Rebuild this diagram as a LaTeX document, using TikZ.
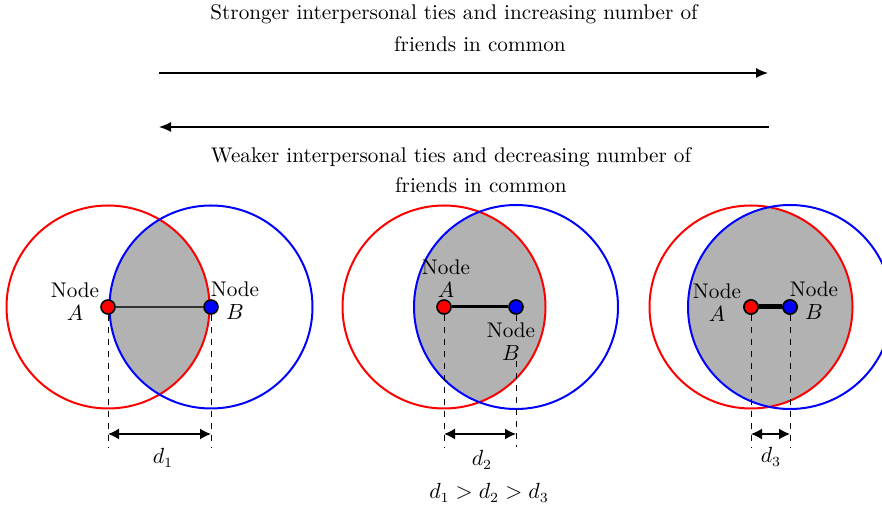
\documentclass[tikz,border=0pt]{standalone}
\usetikzlibrary{arrows.meta}
\begin{document}
\begin{tikzpicture}[x=0.5pt,y=-0.5pt,
  txt/.style={font=\fontsize{10.6pt}{11.5pt}\selectfont, inner sep=0pt, align=center},
  ring/.style={line width=1pt},
  dot/.style={circle, draw=black, line width=0.8pt, minimum size=7pt, inner sep=0pt},
  dimline/.style={dashed, line width=0.4pt},
  dimarrow/.style={{Latex[length=5.5pt,width=5.5pt]}-{Latex[length=5.5pt,width=5.5pt]}, line width=0.7pt},
  bigarrow/.style={-{Latex[length=6pt,width=5pt]}, line width=0.6pt},
  shade/.style={fill=black!30}]
\useasboundingbox (0,0) rectangle (882,506);

% top texts and arrows
\node[txt] (t1a) at (454,14) {Stronger interpersonal ties and increasing number of};
\node[txt] (t1b) at (480,44) {friends in common};
\coordinate (a1s) at (159,73);
\coordinate (a1e) at (768,73);
\draw[bigarrow] (a1s) -- (a1e);
\coordinate (a2s) at (769,127);
\coordinate (a2e) at (159,127);
\draw[bigarrow] (a2s) -- (a2e);
\node[txt] (t2a) at (451,157) {Weaker interpersonal ties and decreasing number of};
\node[txt] (t2b) at (481,185) {friends in common};

% ---------- set 1 ----------
\begin{scope}
  \clip (108,307) circle [radius=50.75pt];
  \fill[shade] (211,307) circle [radius=50.75pt];
\end{scope}
\draw[ring, red] (108,307) circle [radius=50.75pt];
\draw[ring, blue] (211,307) circle [radius=50.75pt];
\node[dot, fill=red] (A1) at (108,307) {};
\node[dot, fill=blue] (B1) at (211,307) {};
\draw[line width=0.6pt, black!80] (A1) -- (B1);
\coordinate (A1d) at (108,447);
\coordinate (B1d) at (211,447);
\draw[dimline] (A1) -- (A1d);
\draw[dimline] (B1) -- (B1d);
\coordinate (A1a) at (108,434);
\coordinate (B1a) at (211,434);
\draw[dimarrow] (A1a) -- (B1a);
\node[txt] (LA1) at (75,302) {Node\\$A$};
\node[txt] (LB1) at (235,301) {Node\\$B$};
\node[txt] (d1) at (163,458) {$d_1$};

% ---------- set 2 ----------
\begin{scope}
  \clip (444,307) circle [radius=50.75pt];
  \fill[shade] (516,307) circle [radius=51pt];
\end{scope}
\draw[ring, red] (444,307) circle [radius=50.75pt];
\draw[ring, blue] (516,307) circle [radius=51pt];
\node[dot, fill=red] (A2) at (444,307) {};
\node[dot, fill=blue] (B2) at (516,307) {};
\draw[line width=1.5pt] (A2) -- (B2);
\node[txt] (LA2) at (446,279) {Node\\$A$};
\node[txt] (LB2) at (511,342) {Node\\$B$};
\coordinate (A2d) at (444,447);
\coordinate (B2d) at (516,447);
\draw[dimline] (A2) -- (A2d);
\draw[dimline] (B2) -- (LB2.north -| B2);
\draw[dimline] (LB2.south -| B2) -- (B2d);
\coordinate (A2a) at (444,434);
\coordinate (B2a) at (516,434);
\draw[dimarrow] (A2a) -- (B2a);
\node[txt] (d2) at (482,460) {$d_2$};
\node[txt] (ineq) at (489,493) {$d_1 > d_2 > d_3$};

% ---------- set 3 ----------
\begin{scope}
  \clip (751,307) circle [radius=50.75pt];
  \fill[shade] (790,307) circle [radius=51pt];
\end{scope}
\draw[ring, red] (751,307) circle [radius=50.75pt];
\draw[ring, blue] (790,307) circle [radius=51pt];
\node[dot, fill=red] (A3) at (751,307) {};
\node[dot, fill=blue] (B3) at (790,307) {};
\draw[line width=2.5pt] (A3) -- (B3);
\node[dot, fill=red] at (A3) {};
\node[dot, fill=blue] at (B3) {};
\coordinate (A3d) at (751,447);
\coordinate (B3d) at (790,447);
\draw[dimline] (A3) -- (A3d);
\draw[dimline] (B3) -- (B3d);
\coordinate (A3a) at (751,434);
\coordinate (B3a) at (790,434);
\draw[dimarrow] (A3a) -- (B3a);
\node[txt] (LA3) at (717,303) {Node\\$A$};
\node[txt] (LB3) at (814,301) {Node\\$B$};
\node[txt] (d3) at (771,457) {$d_3$};
\end{tikzpicture}
\end{document}
